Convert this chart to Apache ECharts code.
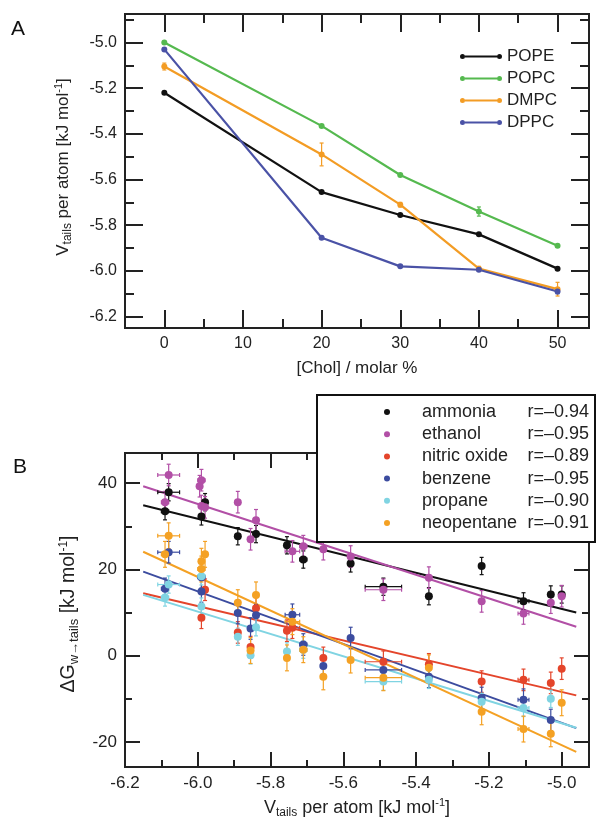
<!DOCTYPE html>
<html>
<head>
<meta charset="utf-8">
<script src="https://cdn.jsdelivr.net/npm/echarts@6/dist/echarts.min.js"></script>
<style>
html,body{margin:0;padding:0;background:#fff;}
#chart{width:596px;height:824px;}
</style>
</head>
<body>
<div id="chart"></div>
<script>
// ---- panel A : V_tails vs cholesterol ----
var cholX = [0, 20, 30, 40, 50];
var lipids = ['POPE', 'POPC', 'DMPC', 'DPPC'];
var vPOPE = [-5.22, -5.655, -5.755, -5.84, -5.99];
var vPOPC = [-5.00, -5.365, -5.58, -5.74, -5.89];
var vDMPC = [-5.105, -5.49, -5.71, -5.99, -6.08];
var vDPPC = [-5.03, -5.855, -5.98, -5.995, -6.09];
var errPOPE = [0, 0, 0, 0, 0.005];
var errPOPC = [0, 0, 0, 0.02, 0.005];
var errDMPC = [0.015, 0.05, 0.01, 0.01, 0.03];
var errDPPC = [0.005, 0.005, 0.005, 0.005, 0.01];
var lipidColors = ['#111111', '#55b94f', '#f39c24', '#4a52a6'];

var aXTicks = [0, 10, 20, 30, 40, 50];
var aXMinor = [5, 15, 25, 35, 45];
var aYTicks = [-6.2, -6.0, -5.8, -5.6, -5.4, -5.2, -5.0];
var aYMinor = [-6.1, -5.9, -5.7, -5.5, -5.3, -5.1, -4.9];

// ---- panel B : transfer free energy vs V_tails ----
// systems in order POPE 0..50, POPC 0..50, DMPC 0..50, DPPC 0..50
var gases = ['ammonia', 'ethanol', 'nitric oxide', 'benzene', 'propane', 'neopentane'];
var rVals = ['r=\u20130.94', 'r=\u20130.95', 'r=\u20130.89', 'r=\u20130.95', 'r=\u20130.90', 'r=\u20130.91'];
var gasColors = ['#111111', '#b24fa6', '#e4452b', '#3c4c9f', '#80d4e2', '#f4a124'];
var gAmmonia = [20.8, null, 25.6, 28.2, 32.3,  14.2, 13.8, 21.4, null, 27.7,  12.6, 16.0, 22.3, null, 37.9,  14.2, null, 35.6, null, 33.5];
var gEthanol = [12.6, 24.7, null, 31.4, 34.7,  13.8, 18.1, 23.0, 24.2, 35.6,  9.8, 15.3, 25.4, 40.7, 41.9,  12.3, 27.0, 34.4, 39.3, 35.6];
var gNitric = [-6.0, -0.5, 5.8, 11.0, 8.8,  -3.0, -2.0, null, 6.5, 5.4,  -5.6, -1.4, null, null, null,  -6.3, 2.0, 15.3, null, null];
var gBenzene = [-9.8, -2.4, null, 9.4, 14.9,  null, -4.9, 4.1, 9.5, 9.9,  -10.2, -3.3, 2.6, 18.2, 24.0,  -14.9, 6.3, null, null, 15.5];
var gPropane = [-10.7, null, 1.0, 6.6, 11.4,  null, -5.6, null, null, 4.4,  -12.1, -6.0, 1.4, 18.4, 16.5,  -10.0, 0.1, null, null, 13.5];
var gNeopentane = [-13.0, -4.9, -0.5, 14.1, 21.9,  -10.9, -2.8, -1.0, 7.9, 12.3,  -17.0, -5.1, 1.4, 20.1, 27.8,  -18.1, 1.2, 23.5, null, 23.5];
var gasErr = [2.0, 2.5, 2.5, 2.5, 2.0, 3.0];
var fitX = [-6.15, -4.96];
var fitStart = [34.9, 39.3, 14.5, 19.5, 14.1, 24.1];
var fitEnd = [10.0, 6.7, -9.2, -16.8, -16.7, -22.3];

var bXTicks = [-6.2, -6.0, -5.8, -5.6, -5.4, -5.2, -5.0];
var bXMinor = [-6.1, -5.9, -5.7, -5.5, -5.3, -5.1];
var bYTicks = [-20, 0, 20, 40];
var bYMinor = [-10, 10, 30];

var FONT = 'Liberation Sans';
var INK = '#222';

var chart = echarts.init(document.getElementById('chart'));

function tickAxis(grid, pos, min, max, values, len, labelSize, fmt) {
    return {
        type: 'value', gridIndex: grid, position: pos, min: min, max: max,
        axisLine: {show: false, onZero: false},
        splitLine: {show: false},
        axisTick: {show: true, inside: true, length: len, customValues: values,
            lineStyle: {color: INK, width: 2}},
        axisLabel: labelSize ? {show: true, customValues: values, margin: 8,
            fontSize: labelSize, fontFamily: FONT, color: INK, formatter: fmt} : {show: false}
    };
}
function f1(v) { return v.toFixed(1); }
function f0(v) { return String(Math.round(v)); }

var xAxes = [
    tickAxis(0, 'bottom', -5, 54, aXTicks, 18, 16, f0),
    tickAxis(0, 'bottom', -5, 54, aXMinor, 9),
    tickAxis(0, 'top', -5, 54, aXTicks, 18),
    tickAxis(0, 'top', -5, 54, aXMinor, 9),
    tickAxis(1, 'bottom', -6.2, -4.925, bXTicks, 15, 17, f1),
    tickAxis(1, 'bottom', -6.2, -4.925, bXMinor, 7),
    tickAxis(1, 'top', -6.2, -4.925, bXTicks, 15),
    tickAxis(1, 'top', -6.2, -4.925, bXMinor, 7)
];
var yAxes = [
    tickAxis(0, 'left', -6.25, -4.875, aYTicks, 18, 16, f1),
    tickAxis(0, 'left', -6.25, -4.875, aYMinor, 9),
    tickAxis(0, 'right', -6.25, -4.875, aYTicks, 18),
    tickAxis(0, 'right', -6.25, -4.875, aYMinor, 9),
    tickAxis(1, 'left', -25.8, 47, bYTicks, 15, 17, f0),
    tickAxis(1, 'left', -25.8, 47, bYMinor, 7),
    tickAxis(1, 'right', -25.8, 47, bYTicks, 15),
    tickAxis(1, 'right', -25.8, 47, bYMinor, 7)
];

// error bars (vertical + optional horizontal) with small caps
function errRender(color) {
    return function (params, api) {
        var x = api.value(0), y = api.value(1), ye = api.value(2), xe = api.value(3);
        var kids = [];
        var st = {stroke: color, lineWidth: 1.2};
        if (ye > 0) {
            var a = api.coord([x, y - ye]), b = api.coord([x, y + ye]);
            kids.push({type: 'line', shape: {x1: a[0], y1: a[1], x2: b[0], y2: b[1]}, style: st});
            kids.push({type: 'line', shape: {x1: a[0] - 2, y1: a[1], x2: a[0] + 2, y2: a[1]}, style: st});
            kids.push({type: 'line', shape: {x1: b[0] - 2, y1: b[1], x2: b[0] + 2, y2: b[1]}, style: st});
        }
        if (xe >= 0.01) {
            var c = api.coord([x - xe, y]), d = api.coord([x + xe, y]);
            kids.push({type: 'line', shape: {x1: c[0], y1: c[1], x2: d[0], y2: d[1]}, style: st});
            kids.push({type: 'line', shape: {x1: c[0], y1: c[1] - 2, x2: c[0], y2: c[1] + 2}, style: st});
            kids.push({type: 'line', shape: {x1: d[0], y1: d[1] - 2, x2: d[0], y2: d[1] + 2}, style: st});
        }
        return {type: 'group', children: kids};
    };
}

var series = [];
var vLists = [vPOPE, vPOPC, vDMPC, vDPPC];
var eLists = [errPOPE, errPOPC, errDMPC, errDPPC];
lipids.forEach(function (name, i) {
    series.push({
        name: name, type: 'line', xAxisIndex: 0, yAxisIndex: 0, z: 3,
        data: cholX.map(function (c, j) { return [c, vLists[i][j]]; }),
        symbol: 'circle', symbolSize: 6, showSymbol: true,
        lineStyle: {color: lipidColors[i], width: 2.2},
        itemStyle: {color: lipidColors[i]}
    });
    series.push({
        name: name + '_err', type: 'custom', xAxisIndex: 0, yAxisIndex: 0, z: 2,
        renderItem: errRender(lipidColors[i]),
        data: cholX.map(function (c, j) { return [c, vLists[i][j], eLists[i][j], 0]; })
    });
});

var vAll = vPOPE.concat(vPOPC, vDMPC, vDPPC);
var vErrAll = errPOPE.concat(errPOPC, errDMPC, errDPPC);
var gLists = [gAmmonia, gEthanol, gNitric, gBenzene, gPropane, gNeopentane];
gases.forEach(function (name, g) {
    var pts = [], errs = [];
    gLists[g].forEach(function (y, k) {
        if (y === null) return;
        pts.push([vAll[k], y]);
        errs.push([vAll[k], y, gasErr[g], vErrAll[k]]);
    });
    series.push({
        name: name + '_fit', type: 'line', xAxisIndex: 4, yAxisIndex: 4, z: 2,
        data: [[fitX[0], fitStart[g]], [fitX[1], fitEnd[g]]],
        showSymbol: false, lineStyle: {color: gasColors[g], width: 2}
    });
    series.push({
        name: name + '_err', type: 'custom', xAxisIndex: 4, yAxisIndex: 4, z: 3,
        renderItem: errRender(gasColors[g]), data: errs
    });
    series.push({
        name: name, type: 'scatter', xAxisIndex: 4, yAxisIndex: 4, z: 4,
        data: pts, symbolSize: 8, itemStyle: {color: gasColors[g], opacity: 1}
    });
});

// line with a dot at each end, circles and bar do not overlap
var lineIcon = 'path://M0,2.5a2.5,2.5 0 1,0 5,0a2.5,2.5 0 1,0 -5,0Z M5,1.6L37,1.6L37,3.4L5,3.4Z M37,2.5a2.5,2.5 0 1,0 5,0a2.5,2.5 0 1,0 -5,0Z';

function ttl(x, y, rot, text, rich) {
    return {type: 'text', x: x, y: y, rotation: rot,
        style: {text: text, align: 'center', verticalAlign: 'middle', rich: rich,
            fontFamily: FONT, fill: INK}};
}
function richSet(size) {
    return {
        n: {fontSize: size, fontFamily: FONT, color: INK},
        s: {fontSize: Math.round(size * 0.68), fontFamily: FONT, color: INK, padding: [Math.round(size * 0.5), 0, 0, 0]},
        p: {fontSize: Math.round(size * 0.62), fontFamily: FONT, color: INK, padding: [0, 0, Math.round(size * 0.55), 0]}
    };
}
var richA = richSet(17), richB = richSet(18), richBy = richSet(19.5);
var vTitle = '{n|V}{s|tails}{n| per atom [kJ mol}{p|-1}{n|]}';

chart.setOption({
    animation: false,
    backgroundColor: '#fff',
    grid: [
        {left: 125, right: 7, top: 14, height: 314, show: true, borderColor: INK, borderWidth: 2},
        {left: 125, right: 7, top: 453, height: 314, show: true, borderColor: INK, borderWidth: 2}
    ],
    xAxis: xAxes,
    yAxis: yAxes,
    legend: [
        {data: lipids, orient: 'vertical', left: 460, top: 48, padding: 0,
            icon: lineIcon, itemWidth: 42, itemHeight: 5, itemGap: 5, selectedMode: false,
            textStyle: {fontSize: 17, fontFamily: FONT, color: INK}},
        {data: gases.map(function (n) { return {name: n, icon: 'circle'}; }),
            orient: 'vertical', left: 317, top: 395, padding: [8, 6, 10, 67],
            backgroundColor: '#fff', borderColor: '#111', borderWidth: 2,
            itemWidth: 60, itemHeight: 6, itemGap: 4.2, selectedMode: false,
            formatter: function (name) {
                return '{n|' + name + '}{r|' + rVals[gases.indexOf(name)] + '}';
            },
            textStyle: {fontSize: 18, fontFamily: FONT, color: INK, rich: {
                n: {width: 95, fontSize: 18, fontFamily: FONT, color: INK, lineHeight: 18},
                r: {width: 72, align: 'right', fontSize: 18, fontFamily: FONT, color: INK, lineHeight: 18}
            }}}
    ],
    graphic: [
        {type: 'text', x: 11, y: 19, style: {text: 'A', fontSize: 21, fontFamily: FONT, fill: '#111'}},
        {type: 'text', x: 13, y: 457, style: {text: 'B', fontSize: 21, fontFamily: FONT, fill: '#111'}},
        ttl(63, 167, Math.PI / 2, vTitle, richA),
        ttl(357, 368, 0, '{n|[Chol] / molar %}', richA),
        ttl(69, 614, Math.PI / 2, '{n|\u0394G}{s|w\u2192tails}{n| [kJ mol}{p|-1}{n|]}', richBy),
        ttl(357, 808, 0, vTitle, richB)
    ],
    series: series
});
</script>
</body>
</html>
